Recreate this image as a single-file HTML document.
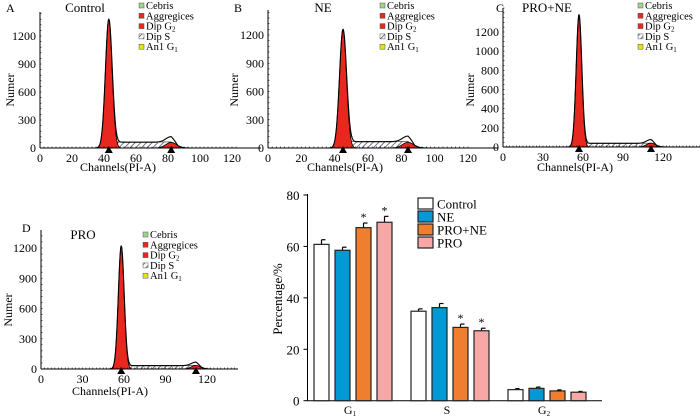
<!DOCTYPE html>
<html><head><meta charset="utf-8">
<style>
body{margin:0;background:#fff;}
svg{display:block;}
svg text{font-family:"Liberation Serif","DejaVu Serif","Times New Roman",serif;}
</style></head>
<body>
<svg id="fig" width="700" height="416" viewBox="0 0 700 416" font-family="Liberation Serif, DejaVu Serif, serif">
<defs>
<pattern id="hatch" width="4" height="4" patternUnits="userSpaceOnUse" patternTransform="rotate(45)">
<rect width="4" height="4" fill="#fff"/><line x1="0" y1="0" x2="0" y2="4" stroke="#556" stroke-width="1.6"/>
</pattern>
</defs>
</svg>
<script>
// ---- Histogram panel data ----
const panelIds = ["A","B","C","D"];
const panelTitles = ["Control","NE","PRO+NE","PRO"];
const g1Channel = [43,45,57,58];
const g1Height = [1380,1260,1380,1220];
const g2Channel = [82,84,111,112];
const g2Height = [60,60,40,35];
const sLevel = [65,70,40,35];
const yTicksA = [0,300,600,900,1200];
const yTicksC = [0,200,400,600,800,1000,1200];
const xTicksAB = [0,20,40,60,80,100,120];
const xTicksCD = [0,30,60,90,120];
const legendItems = ["Cebris","Aggregices","Dip G","Dip S","An1 G"];
const legendSubs = ["","","2","","1"];
const legendColors = ["#9fd48a","#e8281e","#e8281e","hatch","#e6e21a"];

// ---- Bar chart data ----
const phases = ["G","S","G"];
const phaseSubs = ["1","","2"];
const groups = ["Control","NE","PRO+NE","PRO"];
const groupColors = ["#ffffff","#0099d6","#ef7f2e","#f7a8a6"];
const valControl = [60.8,34.8,4.3];
const valNE = [58.5,36.2,4.8];
const valPRONE = [67.3,28.5,3.8];
const valPRO = [69.4,27.2,3.3];
const errControl = [1.8,0.9,0.4];
const errNE = [1.2,1.6,0.5];
const errPRONE = [1.8,1.3,0.4];
const errPRO = [2.3,1.0,0.3];
const sigPRONE = [true,true,false];
const sigPRO = [true,true,false];
const barTicks = [0,20,40,60,80];

const NS="http://www.w3.org/2000/svg";
const svg=document.getElementById('fig');
function mk(tag,attrs,parent,text){const e=document.createElementNS(NS,tag);for(const k in attrs)e.setAttribute(k,attrs[k]);if(text!==undefined)e.textContent=text;(parent||svg).appendChild(e);return e;}

const layouts=[
 {x0:40,x1:232,xmax:120,axEnd:236,y0:148,yTop:36,yv:1200,top:12,xt:xTicksAB,yt:yTicksA,lx:139,ly:6,lab:[6,8],tit:[85,8],numer:[10,90],chan:[118,167],sig:2.1},
 {x0:268,x1:468,xmax:120,axEnd:472,y0:148,yTop:35,yv:1200,top:10,xt:xTicksAB,yt:yTicksA,lx:380,ly:6,lab:[234,8],tit:[323,8],numer:[234,90],chan:[345,167],sig:2.1},
 {x0:503,x1:663,xmax:120,axEnd:700,y0:147,yTop:32,yv:1200,top:8,xt:xTicksCD,yt:yTicksC,lx:638,ly:6,lab:[496,8],tit:[547,8],numer:[470,90],chan:[575,167],sig:2.1},
 {x0:41,x1:207,xmax:120,axEnd:238,y0:369,yTop:248,yv:1200,top:230,xt:xTicksCD,yt:yTicksA,lx:143,ly:235,lab:[22,228],tit:[83,235],numer:[8,310],chan:[110,391],sig:2.1}
];

layouts.forEach((L,i)=>{
 const g=mk('g',{});
 
 
 const sx=c=>L.x0+(c/L.xmax)*(L.x1-L.x0);
 const sy=v=>L.y0-(v/L.yv)*(L.y0-L.yTop);
 const sig=L.sig;
 const N=200, cmin=0, cmax=L.xmax*1.15;
 const g1=c=>g1Height[i]*Math.exp(-((c-g1Channel[i])**2)/(2*sig*sig));
 const g2=c=>g2Height[i]*Math.exp(-((c-g2Channel[i])**2)/(2*(sig*1.6)**2));
 const sFn=c=>{const a=g1Channel[i]+sig*1.5,b=g2Channel[i];if(c<a-3||c>b+4)return 0;let v=sLevel[i];if(c<a)v*= (c-(a-3))/3;if(c>b)v*=(b+4-c)/4;return v;};
 function path(fn){let d='';for(let k=0;k<=N*4;k++){const c=cmin+(cmax-cmin)*k/(N*4);d+=(k?'L':'M')+sx(c).toFixed(2)+','+sy(fn(c)).toFixed(2);}return d;}
 const sp=mk('path',{d:path(sFn)+'Z',fill:'url(#hatch)',stroke:'#333','stroke-width':0.6},g);
 
 
 const p1=mk('path',{d:path(g1)+'Z',fill:'#e8281e',stroke:'#000','stroke-width':0.8},g);
 
 
 const p2=mk('path',{d:path(g2)+'Z',fill:'#e8281e',stroke:'#000','stroke-width':0.8},g);
 
 
 const tot=c=>g1(c)+g2(c)+sFn(c)*0.95;
 const pt=mk('path',{d:path(tot),fill:'none',stroke:'#000','stroke-width':1.1},g);
 
 
 mk('line',{x1:L.x0,y1:L.top,x2:L.x0,y2:L.y0,stroke:'#000','stroke-width':1},g);
 mk('line',{x1:L.x0,y1:L.y0,x2:L.axEnd,y2:L.y0,stroke:'#000','stroke-width':1},g);
 const step=(L.x1-L.x0)/L.xmax*2.5;
 for(let x=L.x0;x<=L.axEnd;x+=step)mk('line',{x1:x,y1:L.y0,x2:x,y2:L.y0-1.5,stroke:'#000','stroke-width':0.6},g);
 const ystep=(L.y0-L.yTop)/L.yv*100*(L.yt===yTicksC?0.5:0.6);
 for(let y=L.y0;y>=L.top;y-=ystep)mk('line',{x1:L.x0,y1:y,x2:L.x0+1.5,y2:y,stroke:'#000','stroke-width':0.6},g);
 L.xt.forEach(t=>{const e=mk('text',{x:sx(t),y:L.y0+14,'font-size':12,'text-anchor':'middle'},g,String(t));});
 L.yt.forEach(t=>{const e=mk('text',{x:L.x0-4,y:sy(t)+4,'font-size':12,'text-anchor':'end'},g,String(t));});
 [g1Channel[i],g2Channel[i]].forEach(c=>{const x=sx(c);const t=mk('polygon',{points:`${x-4},${L.y0+5} ${x+4},${L.y0+5} ${x},${L.y0-2}`,fill:'#000'},g);});
 let e=mk('text',{x:L.lab[0],y:L.lab[1]+4,'font-size':12},g,panelIds[i]);
 e=mk('text',{x:L.tit[0],y:L.tit[1]+4,'font-size':13,'text-anchor':'middle'},g,panelTitles[i]);
 e=mk('text',{x:0,y:0,'font-size':12,'text-anchor':'middle',transform:`translate(${L.numer[0]+4},${L.numer[1]}) rotate(-90)`},g,'Numer');
 e=mk('text',{x:L.chan[0],y:L.chan[1]+4,'font-size':12,'text-anchor':'middle'},g,'Channels(PI-A)');
 legendItems.forEach((lab,j)=>{const y=L.ly+j*10.3;
  const r=mk('rect',{x:L.lx,y:y-3,width:5,height:5,fill:legendColors[j]==='hatch'?'url(#hatch)':legendColors[j],stroke:'#555','stroke-width':0.5},g);
  
  const t=mk('text',{x:L.lx+7,y:y+3,'font-size':10.5},g,lab);
  
  if(legendSubs[j]){mk('tspan',{'font-size':7,dy:2},t,legendSubs[j]);}
 });
});

// ---- Bar chart ----
const bg=mk('g',{});


const BX0=307.5,BX1=602,BY0=400.7,BYT=195;
const by=v=>BY0-(v/80)*(BY0-BYT);
const groupCenter=k=>353+k*97;
const barStep=21,barW=15;
mk('line',{x1:BX0,y1:BYT-1,x2:BX0,y2:BY0,stroke:'#000'},bg);
mk('line',{x1:BX0,y1:BY0,x2:BX1,y2:BY0,stroke:'#000'},bg);
barTicks.forEach(t=>{mk('line',{x1:BX0-4,y1:by(t),x2:BX0,y2:by(t),stroke:'#000'},bg);
 const e=mk('text',{x:BX0-8,y:by(t)+5,'font-size':13,'text-anchor':'end'},bg,String(t));});
let ye=mk('text',{x:0,y:0,'font-size':13,'text-anchor':'middle',transform:'translate(282,299) rotate(-90)'},bg,'Percentage/%');

const vals=[valControl,valNE,valPRONE,valPRO],errs=[errControl,errNE,errPRONE,errPRO],sigs=[null,null,sigPRONE,sigPRO];
phases.forEach((ph,k)=>{
 vals.forEach((arr,s)=>{
  const cx=groupCenter(k)+(s-1.5)*barStep;const v=arr[k],er=errs[s][k];
  const eb=mk('line',{x1:cx,y1:by(v),x2:cx,y2:by(v+er),stroke:'#000','stroke-width':1.2},bg);
  
  mk('line',{x1:cx,y1:by(v+er),x2:cx+4,y2:by(v+er),stroke:'#000','stroke-width':1.2},bg);
  const r=mk('rect',{x:cx-barW/2,y:by(v),width:barW,height:BY0-by(v),fill:groupColors[s],stroke:'#222','stroke-width':1.2},bg);
  
  
  if(sigs[s]&&sigs[s][k]){const t=mk('text',{x:cx,y:by(v+er)-2,'font-size':12,'text-anchor':'middle'},bg,'*');}
 });
 const t=mk('text',{x:groupCenter(k)-3,y:414,'font-size':12,'text-anchor':'middle'},bg,ph);
 
 if(phaseSubs[k])mk('tspan',{'font-size':7,dy:2},t,phaseSubs[k]);
});
groups.forEach((gname,s)=>{const y=204+s*13;
 const r=mk('rect',{x:418,y:y-6,width:15,height:11,fill:groupColors[s],stroke:'#222','stroke-width':1.2},bg);
 
 const t=mk('text',{x:437,y:y+4.5,'font-size':13},bg,gname);
 
});
</script>
</body></html>
